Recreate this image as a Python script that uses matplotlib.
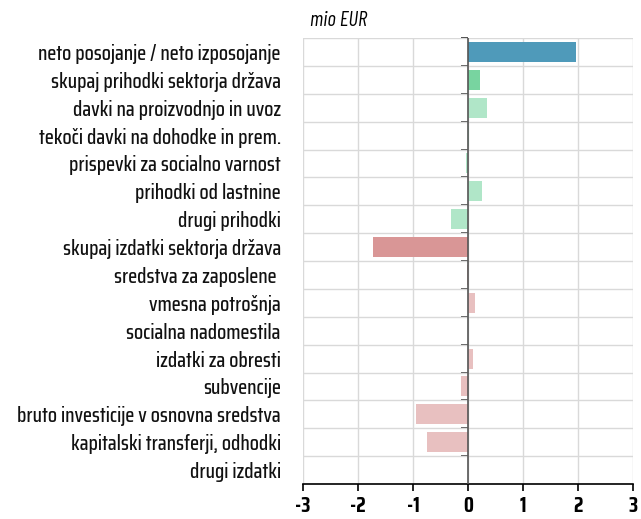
import numpy as np
import matplotlib.pyplot as plt

categories = [
    "neto posojanje / neto izposojanje",
    "skupaj prihodki sektorja država",
    "davki na proizvodnjo in uvoz",
    "tekoči davki na dohodke in prem.",
    "prispevki za socialno varnost",
    "prihodki od lastnine",
    "drugi prihodki",
    "skupaj izdatki sektorja država",
    "sredstva za zaposlene ",
    "vmesna potrošnja",
    "socialna nadomestila",
    "izdatki za obresti",
    "subvencije",
    "bruto investicije v osnovna sredstva",
    "kapitalski transferji, odhodki",
    "drugi izdatki",
]
values = [1.96, 0.21, 0.34, 0.01, -0.04, 0.25, -0.31, -1.73,
          -0.01, 0.13, 0.0, 0.09, -0.12, -0.95, -0.74, 0.0]
colors = ["#4f9aba", "#78d4a0"] + ["#b0e6c8"] * 5 + ["#d99696"] + ["#e8c0c0"] * 8
ticks = [-3, -2, -1, 0, 1, 2, 3]

plt.rcParams['font.family'] = ['Saira Condensed', 'DejaVu Sans']

fig = plt.figure(figsize=(6.41, 5.19), dpi=100)
ax = fig.add_axes([303/641, 1 - 484/519, 330/641, 446/519])

y = np.arange(len(categories))
ax.barh(y, values, height=0.72, color=colors, zorder=2)
ax.set_xlim(-3, 3)
ax.set_ylim(len(categories) - 0.5, -0.5)

ax.set_xticks(ticks)
ax.set_xticklabels([str(t) for t in ticks], fontsize=15, fontweight='bold')
ax.set_yticks(y)
ax.set_yticklabels(categories, fontsize=15, fontweight='medium', color='#111111')
ax.tick_params(axis='y', length=0, pad=16)
ax.tick_params(axis='x', length=5, width=1.2, direction='out', pad=4)
ax.set_yticks(np.arange(len(categories) + 1) - 0.5, minor=True)
ax.tick_params(axis='y', which='minor', length=0)

ax.grid(True, which='minor', axis='y', color='#d9d9d9', lw=1, zorder=0)
ax.grid(True, which='major', axis='x', color='#d9d9d9', lw=1, zorder=0)
ax.grid(False, which='major', axis='y')
for s in ['left', 'right', 'top']:
    ax.spines[s].set_visible(False)
ax.spines['bottom'].set_color('black')
ax.spines['bottom'].set_linewidth(1.2)
ax.axvline(0, color='#555555', lw=1.2, zorder=3)

sec = ax.secondary_yaxis(0.5)
sec.set_yticks(np.arange(len(categories)) - 0.5)
sec.set_yticklabels([])
sec.tick_params(length=5, width=1.2, color='#333333', direction='in')
for s in sec.spines.values():
    s.set_visible(False)

fig.text(310/641, 1 - 20/519, "mio EUR", fontsize=15, style='italic', va='center',
         family=['Barlow Condensed', 'Saira Condensed', 'DejaVu Sans'])

fig.savefig("out.png", dpi=100)
